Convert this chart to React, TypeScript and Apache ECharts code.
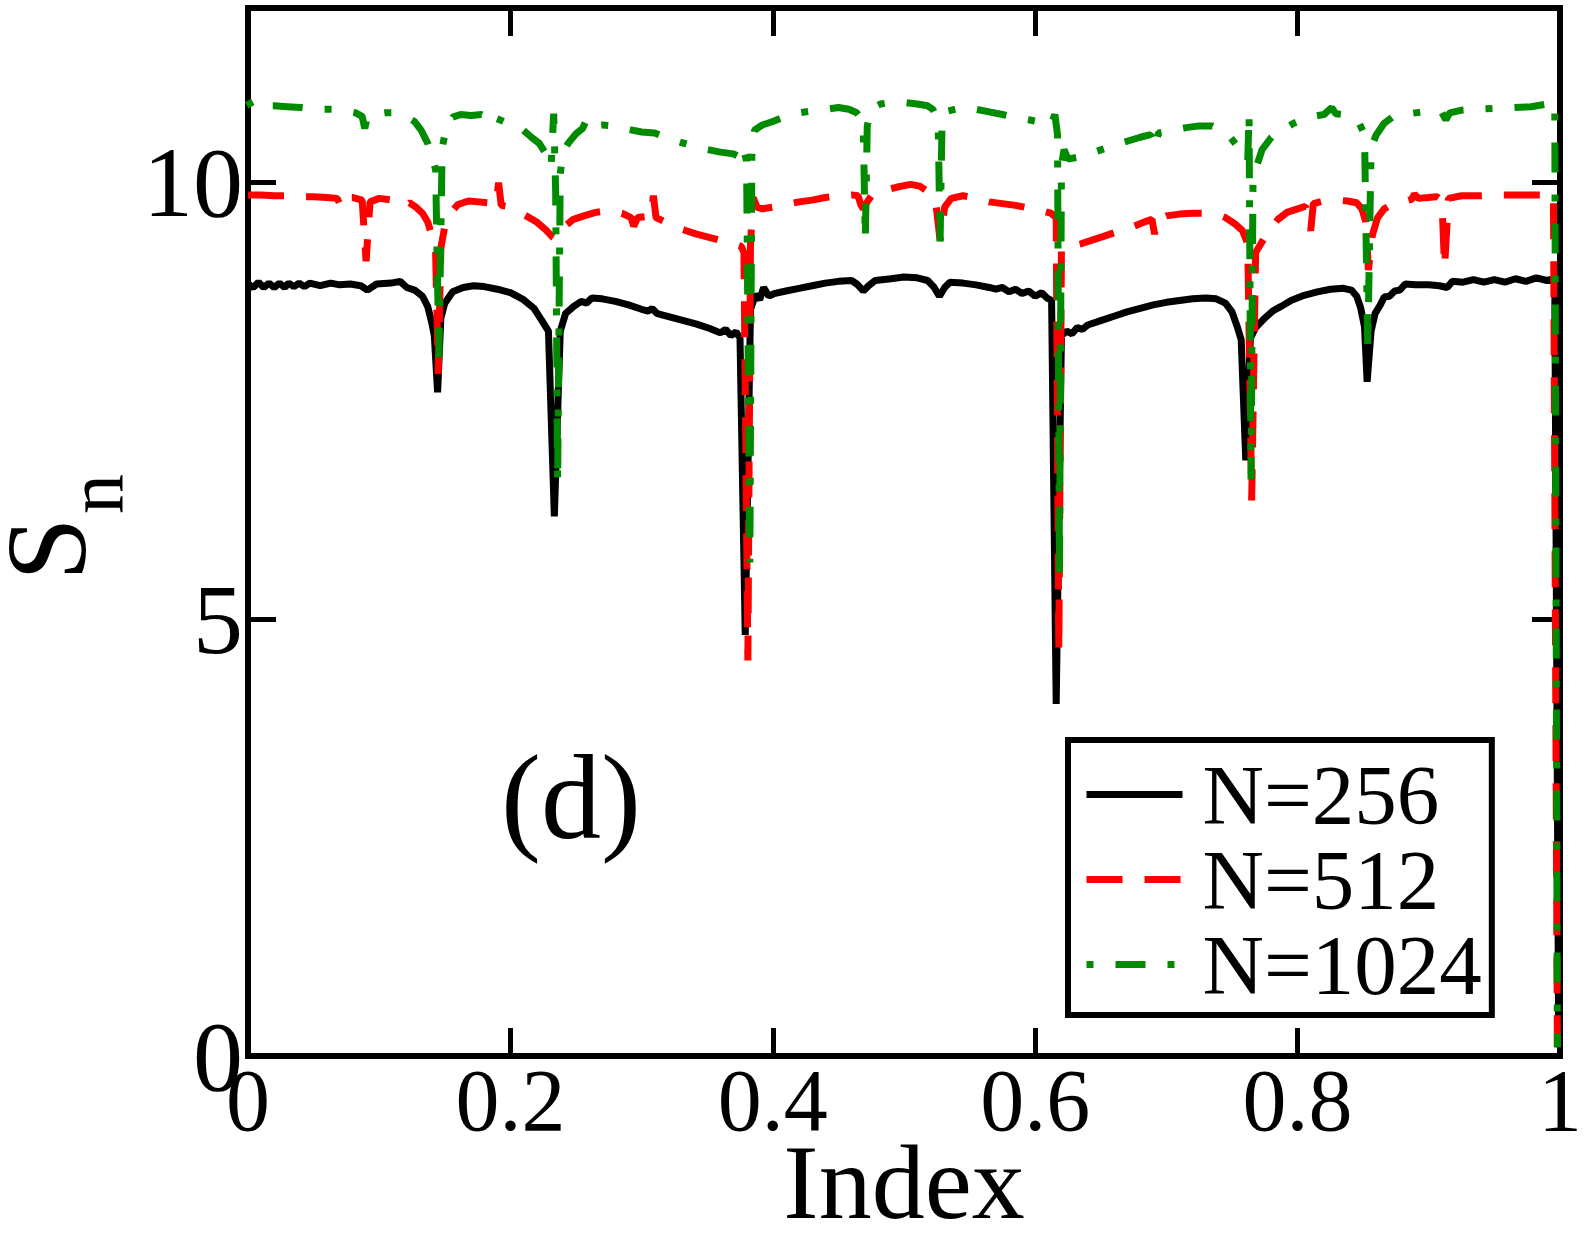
import React, { useEffect, useRef } from "react";
import * as echarts from "echarts";

const FONT = "'Liberation Serif', 'Times New Roman', serif";

// Axis ticks
const xTicks = [0, 0.2, 0.4, 0.6, 0.8, 1];
const yTicks = [0, 5, 10];
const yMax = 12;

const seriesNames = ["N=256", "N=512", "N=1024"];
const seriesColors = ["#000000", "#ff0000", "#008b00"];

// S_n against normalised index, N = 256
const n256: [number, number][] = [
  [0.0, 8.84], [0.004, 8.8], [0.008, 8.86], [0.012, 8.8], [0.016, 8.85], [0.02, 8.8],
  [0.024, 8.85], [0.028, 8.8], [0.031, 8.85], [0.035, 8.81], [0.039, 8.85], [0.043, 8.81],
  [0.047, 8.85], [0.055, 8.82], [0.063, 8.85], [0.07, 8.83], [0.078, 8.84], [0.086, 8.82],
  [0.091, 8.77], [0.098, 8.84], [0.109, 8.85], [0.116, 8.87], [0.121, 8.8], [0.127, 8.77],
  [0.133, 8.7], [0.137, 8.58], [0.14, 8.4], [0.142, 8.25], [0.1445, 7.6], [0.147, 8.45],
  [0.15, 8.62], [0.156, 8.75], [0.164, 8.8], [0.172, 8.82], [0.18, 8.81], [0.19, 8.78],
  [0.2, 8.74], [0.21, 8.66], [0.218, 8.56], [0.224, 8.42], [0.229, 8.3], [0.2335, 6.18],
  [0.238, 8.3], [0.242, 8.5], [0.248, 8.58], [0.254, 8.64], [0.258, 8.62], [0.262, 8.68],
  [0.27, 8.67], [0.28, 8.64], [0.29, 8.6], [0.3, 8.55], [0.305, 8.53], [0.308, 8.56],
  [0.312, 8.5], [0.322, 8.46], [0.332, 8.42], [0.342, 8.38], [0.352, 8.33], [0.36, 8.28],
  [0.364, 8.32], [0.368, 8.25], [0.372, 8.29], [0.375, 8.22], [0.379, 4.82], [0.383, 8.55],
  [0.387, 8.72], [0.39, 8.66], [0.393, 8.8], [0.397, 8.7], [0.401, 8.73], [0.41, 8.76],
  [0.42, 8.79], [0.43, 8.82], [0.44, 8.85], [0.45, 8.87], [0.46, 8.88], [0.464, 8.84],
  [0.469, 8.76], [0.473, 8.82], [0.478, 8.88], [0.49, 8.9], [0.5, 8.92], [0.51, 8.91],
  [0.518, 8.88], [0.523, 8.8], [0.527, 8.7], [0.531, 8.8], [0.535, 8.86], [0.545, 8.85],
  [0.555, 8.83], [0.565, 8.8], [0.57, 8.78], [0.575, 8.8], [0.58, 8.75], [0.585, 8.78],
  [0.59, 8.73], [0.595, 8.76], [0.6, 8.7], [0.605, 8.74], [0.609, 8.68], [0.6125, 8.65],
  [0.616, 4.03], [0.62, 8.25], [0.624, 8.3], [0.628, 8.27], [0.632, 8.34], [0.636, 8.32],
  [0.64, 8.37], [0.65, 8.42], [0.66, 8.47], [0.67, 8.52], [0.68, 8.56], [0.69, 8.6],
  [0.7, 8.63], [0.71, 8.65], [0.72, 8.67], [0.73, 8.68], [0.738, 8.67], [0.745, 8.62],
  [0.75, 8.52], [0.754, 8.35], [0.757, 8.2], [0.7605, 6.82], [0.764, 8.22], [0.768, 8.34],
  [0.775, 8.45], [0.781, 8.53], [0.787, 8.58], [0.795, 8.65], [0.805, 8.71], [0.815, 8.75],
  [0.825, 8.78], [0.835, 8.79], [0.841, 8.77], [0.845, 8.7], [0.848, 8.57], [0.851, 8.35],
  [0.853, 7.72], [0.856, 8.3], [0.859, 8.5], [0.863, 8.6], [0.866, 8.69], [0.87, 8.7],
  [0.874, 8.76], [0.878, 8.77], [0.882, 8.84], [0.89, 8.83], [0.9, 8.83], [0.908, 8.82],
  [0.914, 8.8], [0.918, 8.87], [0.926, 8.86], [0.934, 8.89], [0.942, 8.86], [0.95, 8.89],
  [0.958, 8.86], [0.966, 8.9], [0.974, 8.87], [0.982, 8.91], [0.99, 8.88], [0.996, 8.9],
  [0.999, 0.1],
];

// N = 512
const n512: [number, number][] = [
  [0.0, 9.86], [0.01, 9.86], [0.02, 9.85], [0.03, 9.85], [0.04, 9.84], [0.05, 9.84],
  [0.06, 9.83], [0.068, 9.82], [0.071, 9.72], [0.074, 9.83], [0.08, 9.83], [0.087, 9.8],
  [0.09, 9.1], [0.093, 9.78], [0.1, 9.82], [0.11, 9.8], [0.118, 9.78], [0.12, 9.74],
  [0.123, 9.77], [0.128, 9.72], [0.133, 9.65], [0.137, 9.55], [0.141, 9.35], [0.143, 9.2],
  [0.145, 7.81], [0.147, 9.25], [0.15, 9.5], [0.155, 9.66], [0.16, 9.75], [0.168, 9.79],
  [0.176, 9.78], [0.183, 9.77], [0.189, 9.75], [0.191, 10.0], [0.193, 9.74], [0.197, 9.73],
  [0.205, 9.68], [0.212, 9.62], [0.22, 9.55], [0.227, 9.46], [0.232, 9.38], [0.235, 9.35],
  [0.238, 9.4], [0.243, 9.52], [0.248, 9.58], [0.256, 9.62], [0.265, 9.66], [0.275, 9.68],
  [0.285, 9.65], [0.292, 9.6], [0.294, 9.5], [0.297, 9.6], [0.303, 9.61], [0.307, 9.6],
  [0.309, 9.85], [0.311, 9.6], [0.318, 9.55], [0.326, 9.49], [0.334, 9.45], [0.342, 9.41],
  [0.35, 9.38], [0.36, 9.34], [0.37, 9.3], [0.376, 9.27], [0.378, 9.2], [0.381, 4.53],
  [0.383, 9.3], [0.385, 9.83], [0.388, 9.72], [0.392, 9.7], [0.4, 9.72], [0.41, 9.75],
  [0.42, 9.78], [0.43, 9.8], [0.44, 9.83], [0.45, 9.85], [0.46, 9.86], [0.465, 9.85],
  [0.467, 9.75], [0.469, 9.7], [0.472, 9.78], [0.476, 9.87], [0.485, 9.91], [0.495, 9.95],
  [0.505, 9.98], [0.512, 9.96], [0.52, 9.88], [0.524, 9.8], [0.5275, 9.34], [0.531, 9.72],
  [0.536, 9.82], [0.545, 9.85], [0.555, 9.82], [0.565, 9.78], [0.575, 9.76], [0.585, 9.74],
  [0.595, 9.71], [0.605, 9.68], [0.612, 9.65], [0.616, 9.6], [0.618, 4.62], [0.62, 9.25],
  [0.627, 9.27], [0.635, 9.3], [0.645, 9.35], [0.655, 9.4], [0.665, 9.45], [0.675, 9.5],
  [0.685, 9.56], [0.689, 9.58], [0.691, 9.41], [0.693, 9.58], [0.7, 9.62], [0.71, 9.64],
  [0.72, 9.65], [0.73, 9.65], [0.738, 9.64], [0.745, 9.6], [0.752, 9.53], [0.758, 9.45],
  [0.762, 9.3], [0.765, 6.36], [0.768, 9.2], [0.772, 9.3], [0.778, 9.45], [0.785, 9.58],
  [0.792, 9.66], [0.8, 9.7], [0.806, 9.73], [0.81, 9.45], [0.812, 9.76], [0.82, 9.79],
  [0.83, 9.8], [0.838, 9.79], [0.845, 9.77], [0.849, 9.7], [0.852, 9.55], [0.854, 9.0],
  [0.857, 9.4], [0.861, 9.6], [0.866, 9.7], [0.872, 9.75], [0.88, 9.78], [0.887, 9.81],
  [0.889, 9.87], [0.892, 9.82], [0.9, 9.83], [0.906, 9.84], [0.91, 9.8], [0.912, 9.03],
  [0.915, 9.82], [0.925, 9.85], [0.94, 9.85], [0.955, 9.86], [0.97, 9.86], [0.985, 9.86],
  [0.995, 9.86], [0.998, 0.1],
];

// N = 1024
const n1024: [number, number][] = [
  [0.0, 10.94], [0.003, 10.86], [0.01, 10.88], [0.02, 10.88], [0.03, 10.87], [0.04, 10.86],
  [0.052, 10.84], [0.065, 10.84], [0.075, 10.82], [0.082, 10.8], [0.087, 10.76], [0.089, 10.62],
  [0.091, 10.76], [0.096, 10.78], [0.105, 10.8], [0.111, 10.8], [0.12, 10.76], [0.127, 10.7],
  [0.132, 10.6], [0.137, 10.45], [0.14, 10.3], [0.143, 10.15], [0.1455, 8.0], [0.148, 10.4],
  [0.151, 10.62], [0.156, 10.75], [0.162, 10.78], [0.17, 10.77], [0.178, 10.78], [0.183, 10.74],
  [0.185, 10.8], [0.187, 10.75], [0.195, 10.7], [0.202, 10.66], [0.21, 10.6], [0.216, 10.52],
  [0.222, 10.45], [0.227, 10.33], [0.231, 10.18], [0.233, 10.79], [0.2345, 9.9], [0.236, 6.55],
  [0.238, 10.1], [0.24, 10.35], [0.244, 10.45], [0.25, 10.56], [0.255, 10.62], [0.258, 10.72],
  [0.26, 10.65], [0.27, 10.66], [0.28, 10.65], [0.29, 10.61], [0.3, 10.58], [0.31, 10.57],
  [0.32, 10.51], [0.33, 10.46], [0.34, 10.42], [0.35, 10.38], [0.36, 10.35], [0.37, 10.33],
  [0.374, 10.3], [0.377, 10.42], [0.38, 10.25], [0.3825, 5.65], [0.384, 10.3], [0.386, 10.6],
  [0.392, 10.66], [0.4, 10.7], [0.41, 10.76], [0.42, 10.8], [0.43, 10.82], [0.44, 10.84],
  [0.45, 10.86], [0.458, 10.84], [0.464, 10.8], [0.467, 10.74], [0.469, 10.6], [0.4705, 9.35],
  [0.472, 10.65], [0.475, 10.85], [0.482, 10.9], [0.49, 10.92], [0.5, 10.92], [0.51, 10.9],
  [0.518, 10.88], [0.522, 10.84], [0.526, 10.72], [0.5275, 9.32], [0.529, 10.7], [0.533, 10.82],
  [0.545, 10.86], [0.555, 10.84], [0.565, 10.81], [0.575, 10.78], [0.585, 10.75], [0.595, 10.72],
  [0.605, 10.69], [0.612, 10.66], [0.615, 10.78], [0.617, 10.55], [0.6185, 5.45], [0.62, 10.2],
  [0.622, 10.38], [0.625, 10.27], [0.635, 10.3], [0.645, 10.35], [0.655, 10.4], [0.667, 10.46],
  [0.68, 10.52], [0.688, 10.55], [0.691, 10.4], [0.694, 10.57], [0.705, 10.6], [0.715, 10.63],
  [0.725, 10.65], [0.735, 10.65], [0.742, 10.6], [0.748, 10.53], [0.753, 10.44], [0.758, 10.35],
  [0.762, 10.25], [0.763, 10.79], [0.7645, 6.6], [0.766, 10.0], [0.769, 10.2], [0.773, 10.38],
  [0.78, 10.52], [0.789, 10.61], [0.797, 10.68], [0.808, 10.75], [0.82, 10.78], [0.826, 10.86],
  [0.829, 10.79], [0.836, 10.78], [0.842, 10.74], [0.847, 10.68], [0.851, 10.55], [0.8535, 8.1],
  [0.856, 10.4], [0.86, 10.55], [0.866, 10.68], [0.873, 10.76], [0.885, 10.79], [0.895, 10.81],
  [0.903, 10.82], [0.91, 10.8], [0.913, 10.72], [0.916, 10.8], [0.925, 10.83], [0.935, 10.84],
  [0.95, 10.85], [0.965, 10.86], [0.978, 10.87], [0.99, 10.9], [0.996, 10.92], [0.998, 0.1],
];

const seriesData = [n256, n512, n1024];
const seriesDash: (string | number[])[] = ["solid", [36, 22], [7, 22, 30, 22]];

const frameLine = { show: true, onZero: false, lineStyle: { color: "#000", width: 6, cap: "square" } };
const innerTick = { show: true, inside: true, length: 28, lineStyle: { color: "#000", width: 5 } };

export default function App() {
  const ref = useRef<HTMLDivElement>(null);

  useEffect(() => {
    if (!ref.current) return;
    const chart = echarts.init(ref.current, undefined, { renderer: "svg" });

    const xMin = xTicks[0];
    const xMax = xTicks[xTicks.length - 1];
    const xStep = xTicks[1] - xTicks[0];
    const yMin = yTicks[0];
    const yStep = yTicks[1] - yTicks[0];

    const xBase = {
      type: "value",
      min: xMin,
      max: xMax,
      interval: xStep,
      splitLine: { show: false },
      axisLine: frameLine,
      axisTick: innerTick,
    };
    const yBase = {
      type: "value",
      min: yMin,
      max: yMax,
      interval: yStep,
      splitLine: { show: false },
      axisLine: frameLine,
      axisTick: innerTick,
    };

    chart.setOption({
      animation: false,
      backgroundColor: "#ffffff",
      grid: {
        left: 248,
        right: 28,
        top: 8,
        bottom: 180,
        containLabel: false,
        outerBoundsMode: "none",
      },
      xAxis: [
        {
          ...xBase,
          position: "bottom",
          axisLabel: { margin: 12, fontFamily: FONT, fontSize: 88, lineHeight: 64, color: "#000" },
          name: "Index",
          nameLocation: "middle",
          nameGap: 86,
          nameMoveOverlap: false,
          nameTextStyle: { fontFamily: FONT, fontSize: 106, lineHeight: 80, color: "#000" },
        },
        { ...xBase, position: "top", axisLabel: { show: false } },
      ],
      yAxis: [
        {
          ...yBase,
          position: "left",
          axisLabel: { margin: 5, fontFamily: FONT, fontSize: 100, color: "#000", showMaxLabel: false },
        },
        { ...yBase, position: "right", axisLabel: { show: false } },
      ],
      legend: {
        data: seriesNames,
        orient: "vertical",
        left: 1068,
        top: 740,
        itemWidth: 96,
        itemHeight: 20,
        itemGap: 0,
        padding: [12, 10, 8, 15],
        borderColor: "#000",
        borderWidth: 6,
        backgroundColor: "#ffffff",
        itemStyle: { opacity: 0 },
        lineStyle: { width: 7 },
        textStyle: {
          fontFamily: FONT,
          fontSize: 85,
          lineHeight: 85,
          color: "#000",
          padding: [0, 0, 0, 15],
        },
      },
      graphic: [
        {
          type: "text",
          left: 501,
          top: 737,
          style: { text: "(d)", font: `120px ${FONT}`, fill: "#000" },
        },
        // y-axis title S with subscript n, reading bottom to top
        {
          type: "text",
          x: 46,
          y: 549,
          rotation: Math.PI / 2,
          style: {
            text: "S",
            font: `114px ${FONT}`,
            lineHeight: 80,
            fill: "#000",
            align: "center",
            verticalAlign: "middle",
          },
        },
        {
          type: "text",
          x: 95,
          y: 494,
          rotation: Math.PI / 2,
          style: {
            text: "n",
            font: `80px ${FONT}`,
            lineHeight: 56,
            fill: "#000",
            align: "center",
            verticalAlign: "middle",
          },
        },
      ],
      series: seriesNames.map((name, i) => ({
        type: "line",
        name,
        data: seriesData[i],
        xAxisIndex: 0,
        yAxisIndex: 0,
        showSymbol: false,
        symbol: "none",
        clip: true,
        z: 2 + i,
        itemStyle: { color: seriesColors[i] },
        lineStyle: { color: seriesColors[i], width: 7, type: seriesDash[i] },
      })),
    });

    return () => chart.dispose();
  }, []);

  return (
    <div
      ref={ref}
      style={{ position: "fixed", left: 0, top: 0, width: 1588, height: 1236, background: "#fff" }}
    />
  );
}
